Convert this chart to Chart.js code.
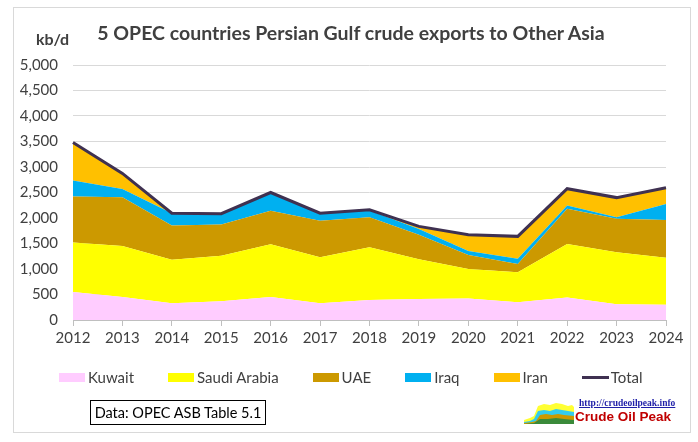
<!DOCTYPE html>
<html>
<head>
<meta charset="utf-8">
<script src="https://cdn.jsdelivr.net/npm/chart.js@4/dist/chart.umd.min.js"></script>
<style>
  body { margin: 0; background: #fff; font-family: Lato, 'Liberation Sans Narrow', sans-serif; }
  #wrap { position: relative; width: 698px; height: 442px; }
  #chart { position: absolute; left: 0; top: 0; }
  #frame { position: absolute; left: 13px; top: 7px; width: 676px; height: 424px; border: 1px solid #d9d9d9; }
  #title { position: absolute; left: 351px; top: 21px; transform: translateX(-50%); white-space: nowrap;
           font-size: 19.5px; font-weight: bold; color: #404040; }
  #unit { position: absolute; left: 36px; top: 29px; font-size: 16px; font-weight: bold; color: #404040; }
  #legend { position: absolute; left: 59px; top: 368px; display: flex; gap: 34px; font-size: 15px; color: #404040; white-space: nowrap; }
  #legend .item { display: flex; align-items: center; }
  #legend .sw { width: 26px; height: 9px; margin-right: 3px; }
  #legend .ln { width: 27px; height: 3px; margin-right: 2px; }
  #source { position: absolute; left: 90px; top: 400px; width: 174px; height: 23px; border: 1px solid #000;
            font-size: 14.5px; color: #000; line-height: 23px; text-align: center; white-space: nowrap; }
  #logo { position: absolute; left: 524px; top: 398px; width: 160px; height: 28px; white-space: nowrap; }
  #logo .url { position: absolute; left: 55px; top: 0; font-family: 'Liberation Serif', serif; font-weight: bold;
               font-size: 9.5px; color: #1f1fa8; text-decoration: underline; }
  #logo .name { position: absolute; left: 51px; top: 11px; font-family: 'Liberation Sans', Arial, sans-serif;
                font-weight: bold; font-size: 13.5px; color: #c00000; }
  #logo svg { position: absolute; left: 0; top: 2px; }
</style>
</head>
<body>
<div id="wrap">
  <div id="frame"></div>
  <canvas id="chart" width="698" height="442"></canvas>
  <div id="title">5 OPEC countries Persian Gulf crude exports to Other Asia</div>
  <div id="unit">kb/d</div>
  <div id="legend"></div>
  <div id="source">Data: OPEC ASB Table 5.1</div>
  <div id="logo">
    <svg width="50" height="24" viewBox="0 0 50 24">
      <polygon points="0,24 0,20 6,18 10,16 14,6 20,4 26,5 32,3 38,4 44,6 48,5 50,7 50,24" fill="#ffff33"/>
      <polygon points="0,24 0,22 6,21 10,19 14,11 20,10 26,11 32,9 38,10 44,11 50,12 50,24" fill="#33ccee"/>
      <polygon points="0,24 0,23 8,22 12,21 16,15 22,14 28,15 34,14 40,15 50,16 50,24" fill="#cc9900"/>
      <polygon points="0,24 10,23 16,19 24,19 32,18 40,19 50,20 50,24" fill="#3a8a3a"/>
    </svg>
    <div class="url">http://crudeoilpeak.info</div>
    <div class="name">Crude Oil Peak</div>
  </div>
</div>
<script>
// --- Data (kb/d) ---
const years = ['2012', '2013', '2014', '2015', '2016', '2017', '2018', '2019', '2020', '2021', '2022', '2023', '2024'];
const kuwait = [550, 450, 330, 370, 450, 330, 390, 410, 420, 350, 440, 310, 300];
const saudiArabia = [970, 1000, 850, 890, 1035, 900, 1035, 780, 580, 585, 1050, 1020, 920];
const uae = [900, 955, 675, 615, 655, 715, 590, 480, 275, 165, 690, 655, 740];
const iraq = [315, 165, 240, 210, 360, 150, 130, 115, 80, 100, 65, 30, 315];
const iran = [745, 305, 0, 0, 0, 0, 15, 50, 315, 440, 330, 385, 320];
const total = [3480, 2875, 2095, 2085, 2500, 2095, 2160, 1835, 1670, 1640, 2575, 2400, 2595];
const yTicks = [0, 500, 1000, 1500, 2000, 2500, 3000, 3500, 4000, 4500, 5000];

const font = "Lato, 'Liberation Sans Narrow', sans-serif";

const areas = [
    { label: 'Kuwait', data: kuwait, color: '#ffccff' },
    { label: 'Saudi Arabia', data: saudiArabia, color: '#ffff00' },
    { label: 'UAE', data: uae, color: '#cc9900' },
    { label: 'Iraq', data: iraq, color: '#00b0f0' },
    { label: 'Iran', data: iran, color: '#ffc000' }
];
const totalColor = '#3f3151';

const datasets = areas.map((a, i) => ({
    label: a.label,
    data: a.data,
    backgroundColor: a.color,
    borderColor: a.color,
    borderWidth: 0,
    pointRadius: 0,
    fill: i === 0 ? 'origin' : '-1',
    stack: 'countries',
    order: 1
}));
datasets.push({
    label: 'Total',
    data: total,
    borderColor: totalColor,
    backgroundColor: totalColor,
    borderWidth: 3,
    pointRadius: 0,
    fill: false,
    stack: 'total',
    order: 0
});

// --- Legend ---
const legendEl = document.getElementById('legend');
areas.forEach(a => {
    legendEl.insertAdjacentHTML('beforeend',
        `<div class="item"><span class="sw" style="background:${a.color}"></span>${a.label}</div>`);
});
legendEl.insertAdjacentHTML('beforeend',
    `<div class="item"><span class="ln" style="background:${totalColor}"></span>Total</div>`);

// --- Chart ---
new Chart(document.getElementById('chart').getContext('2d'), {
    type: 'line',
    data: { labels: years, datasets: datasets },
    options: {
        responsive: false,
        animation: false,
        layout: { padding: { left: 0, right: 32, top: 65, bottom: 92 } },
        plugins: {
            legend: { display: false },
            tooltip: { enabled: false }
        },
        scales: {
            x: {
                grid: { drawOnChartArea: false, drawTicks: true, tickLength: 6, color: '#bfbfbf' },
                border: { color: '#bfbfbf' },
                ticks: { color: '#404040', font: { family: font, size: 15 }, maxRotation: 0, autoSkip: false, padding: 3 },
                afterFit: s => { s.height = 30; }
            },
            y: {
                stacked: true,
                min: 0,
                max: 5000,
                afterBuildTicks: s => { s.ticks = yTicks.map(v => ({ value: v })); },
                grid: { color: '#d9d9d9', drawTicks: false },
                border: { display: false },
                ticks: {
                    color: '#404040',
                    font: { family: font, size: 15 },
                    padding: 15,
                    callback: v => v.toLocaleString('en-US')
                },
                afterFit: s => { s.width = 73; }
            }
        }
    }
});
</script>
</body>
</html>
